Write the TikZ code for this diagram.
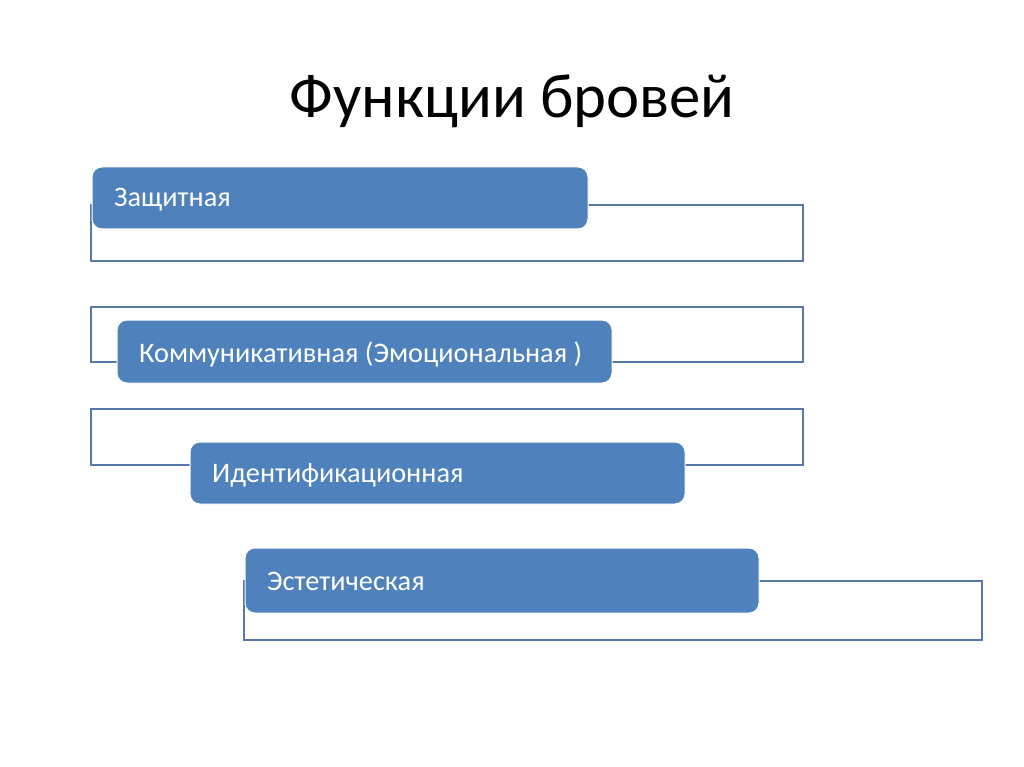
\documentclass[tikz,border=0pt]{standalone}
\usepackage{fontspec}
\setmainfont{Carlito}
\definecolor{boxfill}{HTML}{4F81BD}
\definecolor{frameline}{HTML}{5878AA}
\begin{document}
\begin{tikzpicture}[x=1pt,y=-1pt,
  framebox/.style={draw=frameline,line width=2.6pt,fill=white},
  fn/.style={draw=white,line width=1pt,fill=boxfill,rounded corners=10pt},
  fnlabel/.style={anchor=west,text=white,font=\fontsize{28.3}{32}\selectfont,inner sep=0pt}]
\useasboundingbox[fill=white] (0,0) rectangle (1024,767);
\node (title) at (512,101) {\fontsize{62.7}{70}\selectfont Функции бровей};
% outline frames
\draw[framebox] (91,205) rectangle (803,261) coordinate (f1);
\draw[framebox] (91,307) rectangle (803,362) coordinate (f2);
\draw[framebox] (91,409) rectangle (803,465) coordinate (f3);
\draw[framebox] (244,581) rectangle (982,640) coordinate (f4);
% filled boxes
\draw[fn] (92,167) rectangle (588,229);
\node[fnlabel] (b1) at (114,200) {Защитная};
\draw[fn] (117,320) rectangle (612,383);
\node[fnlabel] (b2) at (139,354) {Коммуникативная (Эмоциональная )};
\draw[fn] (190,442) rectangle (685,504);
\node[fnlabel] (b3) at (212,475) {Идентификационная};
\draw[fn] (245,548) rectangle (759,613);
\node[fnlabel] (b4) at (267,581) {Эстетическая};
\end{tikzpicture}
\end{document}
